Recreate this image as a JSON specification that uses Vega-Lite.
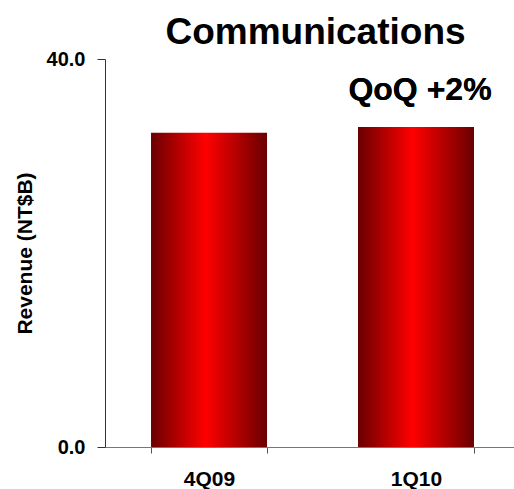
{
  "$schema": "https://vega.github.io/schema/vega-lite/v6.json",
  "autosize": {"type": "none"},
  "padding": {"left": 105, "top": 59, "right": 0, "bottom": 42},
  "width": 409,
  "height": 388,
  "background": "white",
  "config": {"view": {"stroke": null}, "font": "Liberation Sans"},
  "title": {
    "text": "Communications",
    "font": "Liberation Sans",
    "fontSize": 37,
    "fontWeight": "bold",
    "color": "#000000",
    "anchor": "middle",
    "baseline": "alphabetic",
    "dx": 6,
    "offset": -32
  },
  "data": {"values": [
    {"quarter": "4Q09", "revenue": 32.4},
    {"quarter": "1Q10", "revenue": 33.0}
  ]},
  "layer": [
    {
      "mark": {
        "type": "bar",
        "color": {
          "gradient": "linear",
          "x1": 0, "y1": 0, "x2": 1, "y2": 0,
          "stops": [
            {"offset": 0, "color": "#6a0000"},
            {"offset": 0.47, "color": "#ff0000"},
            {"offset": 1, "color": "#6a0000"}
          ]
        }
      },
      "encoding": {
        "x": {
          "field": "quarter",
          "type": "nominal",
          "sort": null,
          "scale": {"paddingInner": 0.4396, "paddingOuter": 0.2078, "align": 0.535},
          "axis": {
            "title": null,
            "labelAngle": 0,
            "labelFont": "Liberation Sans",
            "labelFontSize": 21,
            "labelFontWeight": "bold",
            "labelColor": "#000000",
            "labelBaseline": "alphabetic",
            "labelPadding": 32,
            "tickBand": "extent",
            "tickSize": 6,
            "tickColor": "#555555",
            "domainColor": "#777777"
          }
        },
        "y": {
          "field": "revenue",
          "type": "quantitative",
          "scale": {"domain": [0, 40], "nice": false},
          "axis": {
            "title": "Revenue (NT$B)",
            "titleFont": "Liberation Sans",
            "titleFontSize": 21,
            "titleFontWeight": "bold",
            "titleColor": "#000000",
            "titlePadding": 11,
            "values": [0, 40],
            "format": ".1f",
            "labelFont": "Liberation Sans",
            "labelFontSize": 20,
            "labelFontWeight": "bold",
            "labelColor": "#000000",
            "labelPadding": 12,
            "tickSize": 8,
            "tickColor": "#333333",
            "domainColor": "#333333",
            "grid": false
          }
        }
      }
    },
    {
      "mark": {
        "type": "text",
        "text": "QoQ +2%",
        "font": "Liberation Sans",
        "fontSize": 32,
        "fontWeight": "bold",
        "color": "#000000",
        "align": "center",
        "baseline": "alphabetic",
        "dx": 4
      },
      "encoding": {
        "x": {"datum": "1Q10"},
        "y": {"datum": 35.8}
      }
    }
  ]
}
